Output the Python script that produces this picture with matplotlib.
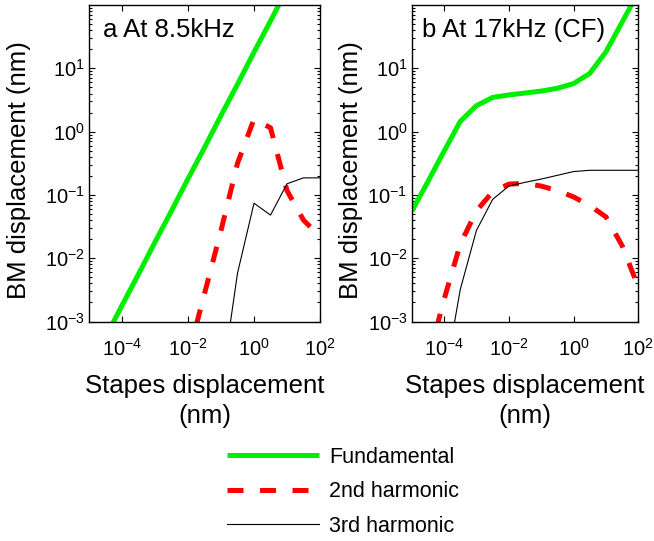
import numpy as np
import matplotlib
matplotlib.use('Agg')
import matplotlib.pyplot as plt
from matplotlib.ticker import LogLocator, NullFormatter

plt.rcParams['font.family'] = ['Liberation Sans', 'DejaVu Sans']
plt.rcParams['mathtext.fontset'] = 'custom'
plt.rcParams['mathtext.rm'] = 'Liberation Sans'
plt.rcParams['mathtext.it'] = 'Liberation Sans:italic'

nan = np.nan

# stapes displacement grid (nm), half-decade steps from 1e-5 to 1e2
stapes_exp = [-5, -4.5, -4, -3.5, -3, -2.5, -2, -1.5, -1, -0.5, 0, 0.5, 1, 1.5, 2]
stapes_nm = 10.0 ** np.array(stapes_exp)

# panel a: 8.5 kHz
fund_a = [1.8e-4, 5.6e-4, 1.8e-3, 5.6e-3, 0.018, 0.056, 0.18, 0.56, 1.8, 5.6, 18, 56, 178, 560, 1780]
harm2_a = [nan, nan, nan, nan, nan, nan, 2.8e-4, 2.75e-3, 0.0275, 0.316, 1.58, 1.15, 0.117, 0.040, 0.022]
harm3_a = [nan, nan, nan, nan, nan, nan, nan, nan, 9e-5, 5.8e-3, 0.074, 0.048, 0.15, 0.186, 0.186]

# panel b: 17 kHz (CF)
fund_b = [0.055, 0.162, 0.49, 1.45, 2.57, 3.47, 3.80, 4.07, 4.37, 4.84, 5.75, 8.3, 18.2, 53.7, 158]
harm2_b = [nan, 2.4e-4, 2.24e-3, 0.0166, 0.056, 0.112, 0.148, 0.153, 0.138, 0.117, 0.093, 0.068, 0.045, 0.0158, 3.5e-3]
harm3_b = [nan, nan, 1.1e-4, 3.2e-3, 0.0275, 0.085, 0.138, 0.158, 0.178, 0.204, 0.234, 0.245, 0.245, 0.245, 0.245]

panels = [
    ('a At 8.5kHz', fund_a, harm2_a, harm3_a),
    ('b At 17kHz (CF)', fund_b, harm2_b, harm3_b),
]

fig = plt.figure(figsize=(6.54, 5.41), dpi=100)
ax_a = fig.add_axes([0.1361, 0.4057, 0.3532, 0.585])
ax_b = fig.add_axes([0.6295, 0.4057, 0.3465, 0.585])

green = '#00ee00'
for ax, (title, fund, h2, h3), tx in zip([ax_a, ax_b], panels, [0.06, 0.044]):
    ax.plot(stapes_nm, fund, color=green, lw=3.6, solid_capstyle='butt', label='Fundamental')
    ax.plot(stapes_nm, h2, color='#ff0000', lw=3.6, linestyle=(0, (3.2, 3.3)),
            dash_capstyle='butt', label='2nd harmonic')
    ax.plot(stapes_nm, h3, color='black', lw=0.8, label='3rd harmonic')

    ax.set_xscale('log')
    ax.set_yscale('log')
    ax.set_xlim(1e-5, 1e2)
    ax.set_ylim(1e-3, 1e2)

    ax.set_xticks([1e-4, 1e-2, 1e0, 1e2])
    ax.set_xticklabels([r'$10^{-4}$', r'$10^{-2}$', r'$10^{0}$', r'$10^{2}$'])
    ax.xaxis.set_minor_locator(LogLocator(base=10.0, subs=(1.0,), numticks=20))
    ax.xaxis.set_minor_formatter(NullFormatter())
    ax.set_yticks([1e-3, 1e-2, 1e-1, 1e0, 1e1])
    ax.set_yticklabels([r'$10^{-3}$', r'$10^{-2}$', r'$10^{-1}$', r'$10^{0}$', r'$10^{1}$'])
    ax.yaxis.set_minor_locator(LogLocator(base=10.0, subs=np.arange(2, 10), numticks=20))
    ax.yaxis.set_minor_formatter(NullFormatter())

    ax.tick_params(which='both', direction='in', top=True, right=True, width=0.8)
    ax.tick_params(which='major', length=4, labelsize=14.5)
    ax.tick_params(which='minor', length=2)
    ax.tick_params(axis='x', which='minor', length=0)
    ax.tick_params(axis='x', pad=12)
    ax.tick_params(axis='y', pad=3)
    for s in ax.spines.values():
        s.set_linewidth(1.0)

    ax.set_xlabel('Stapes displacement\n(nm)', fontsize=18.5, labelpad=10, linespacing=1.3)
    ax.set_ylabel('BM displacement (nm)', fontsize=18.5)
    ax.text(tx, 0.9, title, transform=ax.transAxes, fontsize=18.5, va='baseline', ha='left')

ax_a.yaxis.set_label_coords(-0.25, 0.48)
ax_b.yaxis.set_label_coords(-0.215, 0.48)

handles, labels = ax_a.get_legend_handles_labels()
fig.legend(handles, labels, loc='center', bbox_to_anchor=(0.524, 0.091), frameon=False,
           fontsize=15.5, handlelength=4.3, handletextpad=0.45, labelspacing=0.62,
           borderaxespad=0)

fig.savefig('out.png', dpi=100)
